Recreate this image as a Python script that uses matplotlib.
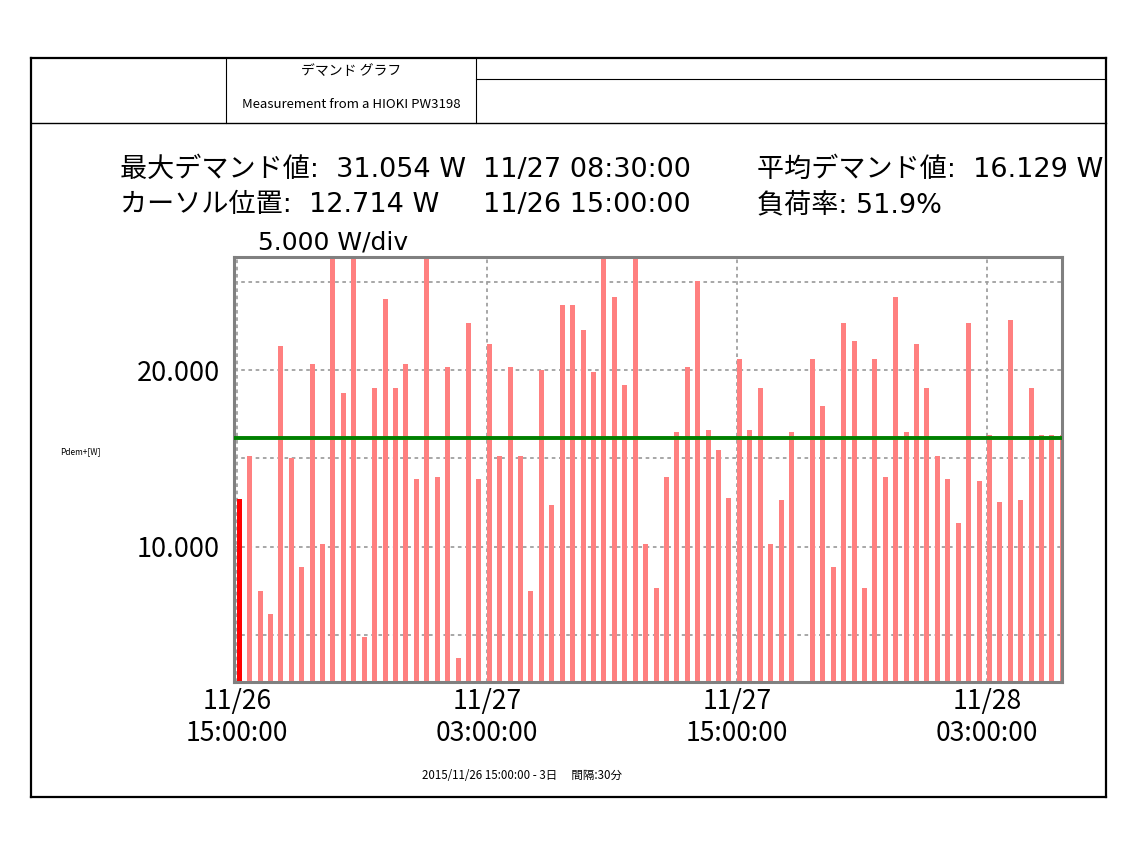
import matplotlib
matplotlib.use("Agg")
import matplotlib.pyplot as plt
import matplotlib.dates as mdates
from matplotlib.lines import Line2D
import numpy as np
import pandas as pd

plt.rcParams['font.family'] = ['Noto Sans CJK JP', 'DejaVu Sans']
LATIN_FIRST = ['DejaVu Sans', 'Noto Sans CJK JP']

# ---------------- data ----------------
start_time = "2015-11-26 15:00"
interval_min = 30
demand_values = [
    12.714, 15.15, 7.51, 6.17, 21.34, 15.04, 8.83, 20.32, 10.13, 27.6,
    18.70, 28.9, 4.90, 18.98, 24.00, 18.98, 20.32, 13.83, 28.2, 13.96,
    20.17, 3.68, 22.68, 13.83, 21.47, 15.15, 20.17, 15.15, 7.51, 20.02,
    12.34, 23.68, 23.68, 22.25, 19.87, 31.054, 24.13, 19.13, 27.9, 10.13,
    7.64, 13.96, 16.49, 20.17, 25.04, 16.62, 15.45, 12.77, 20.62, 16.62,
    18.98, 10.13, 12.64, 16.49, 0.0, 20.62, 17.94, 8.83, 22.68, 21.64,
    7.64, 20.62, 13.96, 24.13, 16.49, 21.47, 18.98, 15.15, 13.83, 11.32,
    22.68, 13.70, 16.32, 12.51, 22.81, 12.64, 18.98, 16.32, 16.32, 16.32,
]
mean_demand = 16.129
cursor_index = 0
tick_times = ["2015-11-26 15:00", "2015-11-27 03:00", "2015-11-27 15:00", "2015-11-28 03:00"]
tick_labels = ["11/26\n15:00:00", "11/27\n03:00:00", "11/27\n15:00:00", "11/28\n03:00:00"]
ytick_values = [5, 10, 15, 20, 25]
ytick_labels = ["", "10.000", "", "20.000", ""]

header_title = "デマンド グラフ"
header_sub = "Measurement from a HIOKI PW3198"
stat_lines = [
    ("最大デマンド値:  31.054 W", "11/27 08:30:00", "平均デマンド値:  16.129 W"),
    ("カーソル位置:  12.714 W", "11/26 15:00:00", "負荷率: 51.9%"),
]
scale_text = "5.000 W/div"
ylabel_text = "Pdem+[W]"
footer_text = "2015/11/26 15:00:00 - 3日　 間隔:30分"

# ---------------- figure ----------------
W, H = 1140, 855
fig = plt.figure(figsize=(W / 100, H / 100), dpi=100)
fig.patch.set_facecolor("white")

def fx(x):
    return x / W

def fy(y):
    return 1 - y / H

def line(x0, y0, x1, y1, lw=1.0, color="black"):
    fig.add_artist(Line2D([fx(x0), fx(x1)], [fy(y0), fy(y1)], lw=lw, color=color,
                          transform=fig.transFigure))

# outer frame
line(31, 58, 1106, 58, lw=1.6)
line(31, 797, 1106, 797, lw=1.6)
line(31, 58, 31, 797, lw=1.6)
line(1106, 58, 1106, 797, lw=1.6)
# header table
line(31, 123, 1106, 123, lw=1.0)
line(226, 58, 226, 123, lw=0.8)
line(476, 58, 476, 123, lw=0.8)
line(476, 79, 1106, 79, lw=0.8)

fig.text(fx(351), fy(71), header_title, ha="center", va="center", fontsize=10)
fig.text(fx(351), fy(104), header_sub, ha="center", va="center", fontsize=9.5)

# stats
cols = [120, 483, 757]
rows = [170, 205]
for r, texts in zip(rows, stat_lines):
    for c, t in zip(cols, texts):
        fig.text(fx(c), fy(r), t, ha="left", va="center", fontsize=19.5,
                 family=LATIN_FIRST)

fig.text(fx(258), fy(243), scale_text, ha="left", va="center", fontsize=18,
         family=LATIN_FIRST)
fig.text(fx(60), fy(452), ylabel_text, ha="left", va="center", fontsize=6)
fig.text(fx(522), fy(775), footer_text, ha="center", va="center", fontsize=8.3)

# ---------------- axes ----------------
ax = fig.add_axes([fx(234), fy(682), fx(1062) - fx(234), fy(257) - fy(682)])
times = pd.date_range(start_time, periods=len(demand_values), freq=f"{interval_min}min")
xnum = mdates.date2num(times.to_pydatetime())
step = interval_min / (24 * 60)
bar_w = step * 0.48
colors = ["#FF0000" if i == cursor_index else "#FF8080" for i in range(len(demand_values))]
ax.bar(xnum, demand_values, width=bar_w, align="edge", color=colors, zorder=2)
ax.axhline(mean_demand, color="#008000", lw=2.8, zorder=3)

ax.set_ylim(2.34, 26.40)
ax.set_xlim(xnum[0] - 0.26 * step, xnum[0] + 79.2 * step)

tick_num = mdates.date2num(pd.to_datetime(tick_times).to_pydatetime())
ax.set_xticks(tick_num)
ax.set_xticklabels(tick_labels, fontsize=19, linespacing=1.25)
ax.set_yticks(ytick_values)
ax.set_yticklabels(ytick_labels, fontsize=19.5)
ax.tick_params(axis="both", length=0, pad=4)
ax.tick_params(axis="y", pad=10)

ax.grid(True, color="#A0A0A0", linestyle=(0, (2, 2)), lw=1.3, zorder=1)
ax.set_axisbelow(True)
for s in ax.spines.values():
    s.set_color("#808080")
    s.set_linewidth(2.2)

fig.savefig("out.png", dpi=100, facecolor="white")
